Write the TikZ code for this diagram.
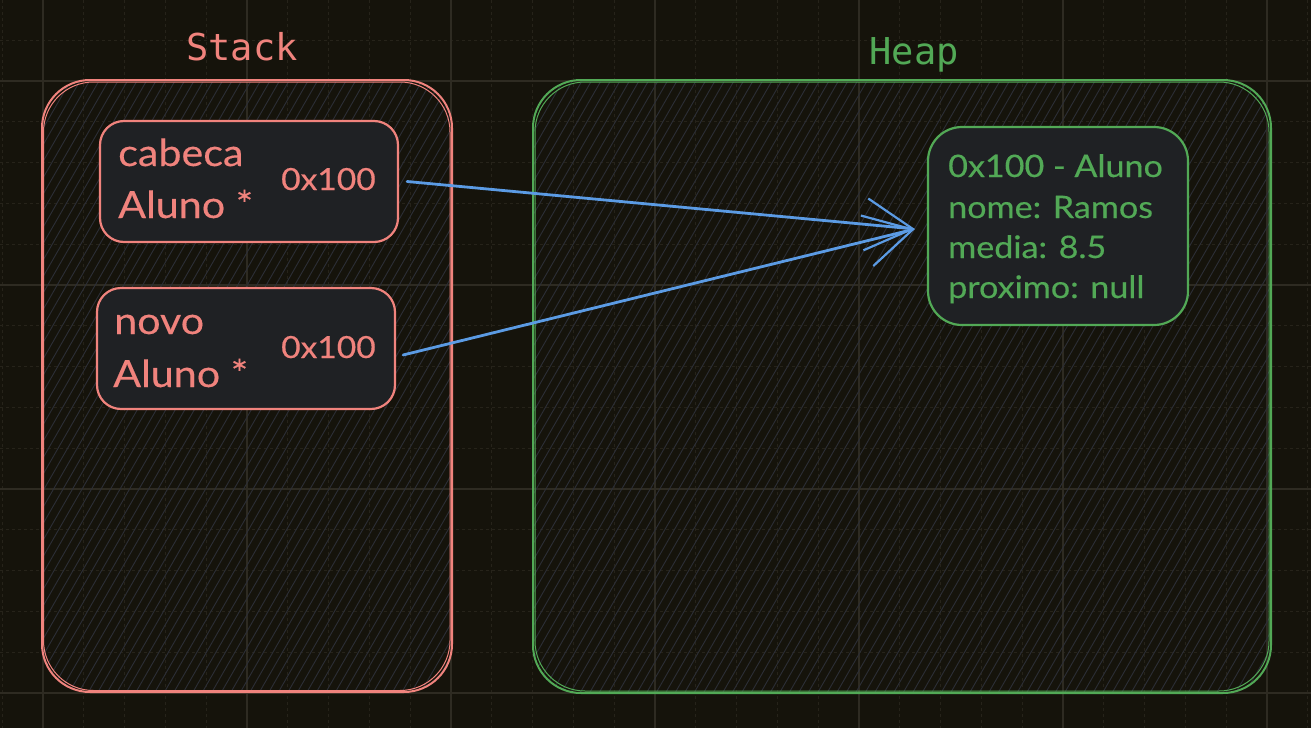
\documentclass[tikz,border=0pt]{standalone}
\usepackage{fontspec}
\setmainfont{Lato}[FakeStretch=1.1, FakeBold=0.35]
\newfontfamily\titlefont{DejaVu Sans Mono}
\usetikzlibrary{arrows.meta}
\definecolor{bg}{HTML}{15130B}
\definecolor{gridminor}{HTML}{26231A}
\definecolor{gridmajor}{HTML}{2E2B22}
\definecolor{redc}{HTML}{F0837D}
\definecolor{greenc}{HTML}{52A956}
\definecolor{bluec}{HTML}{5B9BE4}
\definecolor{boxfill}{HTML}{1F2124}
\definecolor{hatchc}{HTML}{2C2E36}
\tikzset{
  titlelbl/.style={font=\titlefont\fontsize{37}{40}\selectfont, inner sep=0pt, anchor=base},
  bigtxt/.style={font=\fontsize{37.5}{40}\selectfont, inner sep=0pt, anchor=base west, text=redc},
  addrtxt/.style={font=\fontsize{30.5}{34}\selectfont, inner sep=0pt, anchor=base west, text=redc},
  heaptxt/.style={font=\fontsize{31}{34}\selectfont, inner sep=0pt, anchor=base west, text=greenc},
  cellbox/.style={draw=redc, fill=boxfill, line width=2.2pt, rounded corners=24pt, inner sep=0pt},
  objbox/.style={draw=greenc, fill=boxfill, line width=2.2pt, rounded corners=34pt, inner sep=0pt},
  gridmin/.style={draw=gridminor, line width=0.9pt, dash pattern=on 3pt off 3pt},
  gridmaj/.style={draw=gridmajor, line width=1.1pt},
  hatchline/.style={draw=hatchc, line width=0.9pt},
  ptr/.style={draw=bluec, line width=2.8pt, line cap=round, -{Straight Barb[length=47pt, width=52pt, line width=2.2pt]}},
}
\begin{document}
\begin{tikzpicture}[x=1pt, y=-1pt]
% background
\fill[bg] (0,0) rectangle (1311,728);
\useasboundingbox (0,0) rectangle (1311,728);
% grid
\foreach \i in {0,...,32} \draw[gridmin] ({2.2+\i*40.8},0) -- ({2.2+\i*40.8},728);
\foreach \i in {0,...,18} \draw[gridmin] (0,{-0.6+\i*40.8}) -- (1311,{-0.6+\i*40.8});
\foreach \x in {43,247,451,655,859,1063,1267} \draw[gridmaj] (\x,0) -- (\x,728);
\foreach \y in {81,285,489,693} \draw[gridmaj] (0,\y) -- (1311,\y);
% hatch fills
\begin{scope}
  \clip[rounded corners=48pt] (42,80) rectangle (452,692);
  \foreach \i in {0,...,80} \draw[hatchline] ({-320+\i*9.5},692) -- ({-320+\i*9.5+353},80);
\end{scope}
\begin{scope}
  \clip[rounded corners=48pt] (533,80) rectangle (1271,693);
  \foreach \i in {0,...,115} \draw[hatchline] ({200+\i*9.5},693) -- ({200+\i*9.5+354},80);
\end{scope}
% containers
\node[draw=redc, line width=2pt, rounded corners=48pt, minimum width=410pt, minimum height=612pt, inner sep=0pt] (stack) at (247,386) {};
\draw[redc, line width=1pt, rounded corners=50pt] (43.5,82) rectangle (450,690.5);
\node[draw=greenc, line width=2pt, rounded corners=48pt, minimum width=738pt, minimum height=613pt, inner sep=0pt] (heap) at (902,386.5) {};
\draw[greenc, line width=1pt, rounded corners=50pt] (535,82) rectangle (1269,691);
% titles
\node[titlelbl, text=redc] (stacklbl) at (242,60) {Stack};
\node[titlelbl, text=greenc] (heaplbl) at (914,64) {Heap};
% stack cells
\node[cellbox, minimum width=298pt, minimum height=121pt] (cab) at (249,181.5) {};
\node[cellbox, minimum width=298pt, minimum height=121pt] (novo) at (246,348.5) {};
\node[bigtxt] (cabname) at (118,166) {cabeca};
\node[bigtxt] (cabtype) at (118,218) {Aluno *};
\node[addrtxt] (cabaddr) at (281,190) {0x100};
\node[bigtxt] (novoname) at (114,334) {novo};
\node[bigtxt] (novotype) at (113,387) {Aluno *};
\node[addrtxt] (novoaddr) at (281,358) {0x100};
% heap object
\node[objbox, minimum width=260pt, minimum height=198pt] (obj) at (1058,226) {};
\node[heaptxt] (objl1) at (948,177) {0x100 - Aluno};
\node[heaptxt] (objl2) at (948,218) {nome: Ramos};
\node[heaptxt] (objl3) at (948,258) {media: 8.5};
\node[heaptxt] (objl4) at (948,298) {proximo: null};
% pointers
\draw[ptr] ([xshift=8pt]cab.east) -- ([xshift=-12pt, yshift=-3pt]obj.west);
\draw[ptr] ([xshift=7pt, yshift=-6.5pt]novo.east) -- ([xshift=-12pt, yshift=-3pt]obj.west);
\end{tikzpicture}
\end{document}
